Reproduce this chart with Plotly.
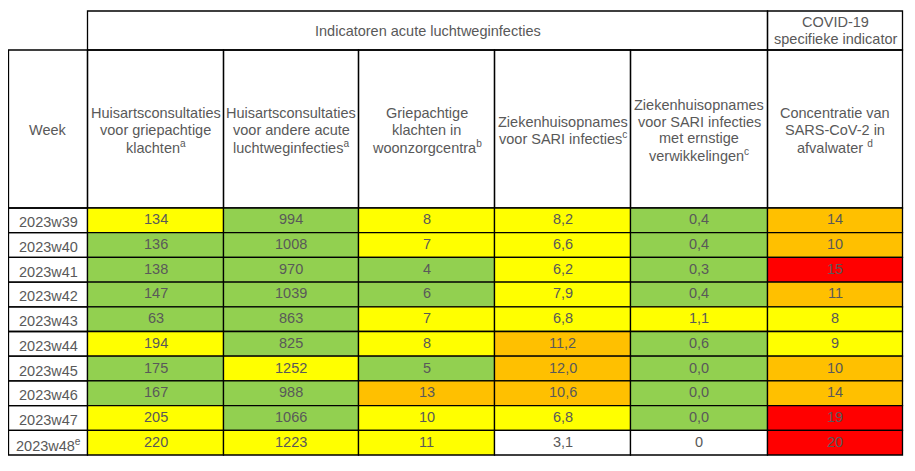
import plotly.graph_objects as go

# ---------------- data ----------------
weeks = ["2023w39", "2023w40", "2023w41", "2023w42", "2023w43",
         "2023w44", "2023w45", "2023w46", "2023w47", "2023w48<sup>e</sup>"]

huisarts_griep = [134, 136, 138, 147, 63, 194, 175, 167, 205, 220]
huisarts_andere = [994, 1008, 970, 1039, 863, 825, 1252, 988, 1066, 1223]
woonzorg_griep = [8, 7, 4, 6, 7, 8, 5, 13, 10, 11]
sari = [8.2, 6.6, 6.2, 7.9, 6.8, 11.2, 12.0, 10.6, 6.8, 3.1]
sari_ernstig = [0.4, 0.4, 0.3, 0.4, 1.1, 0.6, 0.0, 0.0, 0.0, 0]
afvalwater = [14, 10, 15, 11, 8, 9, 10, 14, 19, 20]

# alert levels: G = green, Y = yellow, O = orange, R = red, W = none
lvl_huisarts_griep = ["Y", "G", "G", "G", "G", "Y", "G", "G", "Y", "Y"]
lvl_huisarts_andere = ["G", "G", "G", "G", "G", "G", "Y", "G", "G", "Y"]
lvl_woonzorg_griep = ["Y", "Y", "G", "G", "Y", "Y", "G", "O", "Y", "Y"]
lvl_sari = ["Y", "Y", "Y", "Y", "Y", "O", "O", "O", "Y", "W"]
lvl_sari_ernstig = ["G", "G", "G", "G", "Y", "G", "G", "G", "G", "W"]
lvl_afvalwater = ["O", "O", "R", "O", "Y", "Y", "O", "O", "R", "R"]

group_headers = ["Indicatoren acute luchtweginfecties",
                 "COVID-19<br>specifieke indicator"]
column_headers = [
    "Week",
    "Huisartsconsultaties<br>voor griepachtige<br>klachten<sup>a</sup>",
    "Huisartsconsultaties<br>voor andere acute<br>luchtweginfecties<sup>a</sup>",
    "Griepachtige<br>klachten in<br>woonzorgcentra<sup>b</sup>",
    "Ziekenhuisopnames<br>voor SARI infecties<sup>c</sup>",
    "Ziekenhuisopnames<br>voor SARI infecties<br>met ernstige<br>verwikkelingen<sup>c</sup>",
    "Concentratie van<br>SARS-CoV-2 in<br>afvalwater <sup>d</sup>",
]

# ---------------- style ----------------
COLORS = {"G": "#92D050", "Y": "#FFFF00", "O": "#FFC000", "R": "#FF0000", "W": "#FFFFFF"}
TXT = "#595959"
FONT = "Liberation Sans, Arial, sans-serif"
FS = 14.5
LINE = 16.7
LW = 1.3
OFF = 8  # page body margin

col_widths = [79, 136, 135, 136, 136, 137, 135]
x_start = 8.5
top = 11
h_group = 39
h_head = 158
h_row = 24.7


def fmt(v):
    if isinstance(v, float):
        return f"{v:.1f}".replace(".", ",")
    return str(v)


values = [huisarts_griep, huisarts_andere, woonzorg_griep, sari, sari_ernstig, afvalwater]
levels = [lvl_huisarts_griep, lvl_huisarts_andere, lvl_woonzorg_griep,
          lvl_sari, lvl_sari_ernstig, lvl_afvalwater]

xe = [x_start]
for w in col_widths:
    xe.append(xe[-1] + w)
y_head = top + h_group
y_body = y_head + h_head
n = len(weeks)
ye = [y_body + i * h_row for i in range(n + 1)]

shapes = []
annos = []


def cell(x0, x1, y0, y1, fill="rgba(0,0,0,0)"):
    shapes.append(dict(type="rect", xref="x", yref="y", x0=x0, x1=x1, y0=y0, y1=y1,
                       fillcolor=fill, line=dict(color="black", width=LW),
                       layer="below"))


def text(x, y, s, yshift=0):
    lines = s.split("<br>")
    m = len(lines)
    for k, ln in enumerate(lines):
        annos.append(dict(x=x, y=y + (k - (m - 1) / 2) * LINE, xref="x", yref="y",
                          text=ln, showarrow=False,
                          font=dict(family=FONT, size=FS, color=TXT), align="center",
                          xanchor="center", yanchor="middle", yshift=yshift))


# group header row
cell(xe[1], xe[6], top, y_head)
text((xe[1] + xe[6]) / 2, (top + y_head) / 2, group_headers[0])
cell(xe[6], xe[7], top, y_head)
text((xe[6] + xe[7]) / 2, (top + y_head) / 2, group_headers[1])

# column header row
for j, h in enumerate(column_headers):
    cell(xe[j], xe[j + 1], y_head, y_body)
    text((xe[j] + xe[j + 1]) / 2, (y_head + y_body) / 2 + 1, h)

# body
for i in range(n):
    cell(xe[0], xe[1], ye[i], ye[i + 1])
    text((xe[0] + xe[1]) / 2, (ye[i] + ye[i + 1]) / 2, weeks[i], yshift=-2)
    for j in range(len(values)):
        cell(xe[j + 1], xe[j + 2], ye[i], ye[i + 1], fill=COLORS[levels[j][i]])
        text((xe[j + 1] + xe[j + 2]) / 2, (ye[i] + ye[i + 1]) / 2, fmt(values[j][i]), yshift=1)

fig = go.Figure()
fig.add_trace(go.Scatter(x=[OFF + 1], y=[OFF + 1], mode="markers", marker=dict(opacity=0),
                         hoverinfo="skip", showlegend=False))
fig.update_layout(
    width=915, height=471,
    margin=dict(l=0, r=0, t=0, b=0),
    paper_bgcolor="white", plot_bgcolor="white",
    xaxis=dict(range=[OFF, 915 + OFF], visible=False, fixedrange=True),
    yaxis=dict(range=[471 + OFF, OFF], visible=False, fixedrange=True),
    shapes=shapes, annotations=annos,
    showlegend=False,
)
fig.write_html("out.html")
